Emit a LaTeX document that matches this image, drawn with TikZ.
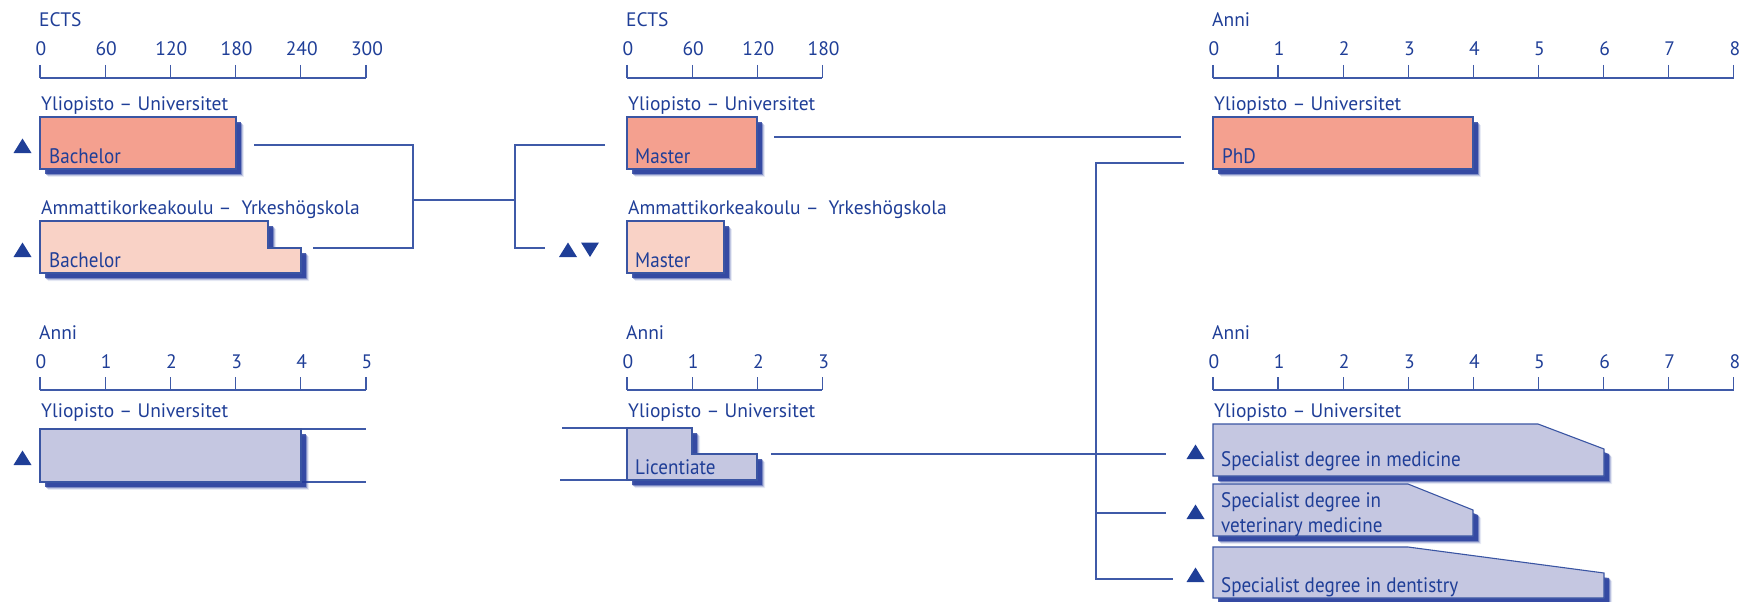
\documentclass[tikz,border=0pt]{standalone}
\usepackage{fontspec}
\setmainfont{PT Sans}
\definecolor{txt}{HTML}{1F3E97}
\definecolor{ln}{HTML}{3F5AA8}
\definecolor{edge}{HTML}{3A55A3}
\definecolor{salmon}{HTML}{F4A08F}
\definecolor{lsalmon}{HTML}{F9D2C6}
\definecolor{lav}{HTML}{C5C7E1}
\definecolor{shad}{HTML}{22399A}
\newcommand\myaxis[6]{% #1 name, #2 x0, #3 y, #4 step, #5 labels, #6 title
  \node[lbl, anchor=base west] (#1t) at (#2-1,#3-51) {#6};
  \foreach \l [count=\i from 0] in {#5} {
    \draw[conn] (#2+\i*#4,#3-13) -- (#2+\i*#4,#3);
    \node[lbl, anchor=base] (#1n\i) at (#2+\i*#4+1,#3-22) {\l};
  }
}
\newcommand\degbox[2]{% #1 fill, #2 path
  \foreach \o/\op in {8/0.1,7/0.2,6/0.4,5/0.8} {
    \fill[shad, opacity=\op, xshift=\o pt, yshift=-\o pt] #2;
  }
  \filldraw[fill=#1, draw=edge, line width=1.1pt] #2;
}
\newcommand\cond[1]{\scalebox{0.91}[1]{#1}}
\begin{document}
\begin{tikzpicture}[x=1pt,y=-1pt,
  lbl/.style={inner sep=0pt, text=txt, font=\fontsize{19.5}{22}\selectfont},
  inlbl/.style={inner sep=0pt, text=txt, font=\fontsize{21}{25}\selectfont, align=left},
  conn/.style={draw=ln, line width=1.3pt},
  tri/.style={fill=txt, draw=none}]
\useasboundingbox (0,0) rectangle (1742,602);

% ---- axes ----
\myaxis{a}{40}{78}{65.2}{0,60,120,180,240,300}{ECTS}
\draw[conn] (40,78) -- (366,78);
\myaxis{b}{627}{78}{65.2}{0,60,120,180}{ECTS}
\draw[conn] (627,78) -- (822,78);
\myaxis{c}{1213}{78}{65.1}{0,1,2,3,4,5,6,7,8}{Anni}
\draw[conn] (1213,78) -- (1734,78);
\myaxis{d}{40}{390}{65.2}{0,1,2,3,4,5}{Anni}
\draw[conn] (40,390) -- (366,390);
\myaxis{e}{627}{390}{65.2}{0,1,2,3}{Anni}
\draw[conn] (627,390) -- (822,390);
\myaxis{f}{1213}{390}{65.1}{0,1,2,3,4,5,6,7,8}{Anni}
\draw[conn] (1213,390) -- (1734,390);

% ---- institution labels ----
\node[lbl, anchor=base west] (u1) at (41,110) {Yliopisto – Universitet};
\node[lbl, anchor=base west] (k1) at (41,214) {Ammattikorkeakoulu –\hspace{10pt}Yrkeshögskola};
\node[lbl, anchor=base west] (u2) at (628,110) {Yliopisto – Universitet};
\node[lbl, anchor=base west] (k2) at (628,214) {Ammattikorkeakoulu –\hspace{10pt}Yrkeshögskola};
\node[lbl, anchor=base west] (u3) at (1214,110) {Yliopisto – Universitet};
\node[lbl, anchor=base west] (u4) at (41,417) {Yliopisto – Universitet};
\node[lbl, anchor=base west] (u5) at (628,417) {Yliopisto – Universitet};
\node[lbl, anchor=base west] (u6) at (1214,417) {Yliopisto – Universitet};

% ---- connectors (behind boxes) ----
\coordinate (c1) at (254,145); \coordinate (c2) at (413,145);
\coordinate (c3) at (413,248); \coordinate (c4) at (313,248);
\coordinate (c5) at (413,200); \coordinate (c6) at (515,200);
\coordinate (c7) at (515,145); \coordinate (c8) at (605,145);
\coordinate (c9) at (515,248); \coordinate (c10) at (545,248);
\draw[conn] (c1) -- (c2) -- (c3) -- (c4);
\draw[conn] (c5) -- (c6);
\draw[conn] (c8) -- (c7) -- (c9) -- (c10);
\coordinate (m1) at (774,137); \coordinate (m2) at (1181,137);
\draw[conn] (m1) -- (m2);
\coordinate (p1) at (1184,163); \coordinate (p2) at (1096,163);
\coordinate (p3) at (1096,579); \coordinate (p4) at (1173,579);
\coordinate (p5) at (1096,513); \coordinate (p6) at (1166,513);
\draw[conn] (p1) -- (p2) -- (p3) -- (p4);
\draw[conn] (p5) -- (p6);
\coordinate (l1) at (771,454); \coordinate (l2) at (1166,454);
\draw[conn] (l1) -- (l2);
\coordinate (y1) at (301,429); \coordinate (y2) at (366,429);
\coordinate (y3) at (301,482); \coordinate (y4) at (366,482);
\draw[conn] (y1) -- (y2); \draw[conn] (y3) -- (y4);
\coordinate (z1) at (562,428); \coordinate (z2) at (627,428);
\coordinate (z3) at (560,480); \coordinate (z4) at (627,480);
\draw[conn] (z1) -- (z2); \draw[conn] (z3) -- (z4);

% ---- boxes ----
\degbox{salmon}{(40,117) rectangle (236,169)}
\degbox{lsalmon}{(40,221) -- (268,221) -- (268,248) -- (301,248) -- (301,273) -- (40,273) -- cycle}
\degbox{lav}{(40,429) rectangle (301,482)}
\degbox{salmon}{(627,117) rectangle (757,169)}
\degbox{lsalmon}{(627,221) rectangle (724,273)}
\degbox{lav}{(627,428) -- (692,428) -- (692,454) -- (757,454) -- (757,480) -- (627,480) -- cycle}
\degbox{salmon}{(1213,117) rectangle (1473,169)}
\degbox{lav}{(1213,424) -- (1538,424) -- (1604,449) -- (1604,476) -- (1213,476) -- cycle}
\degbox{lav}{(1213,484) -- (1408,484) -- (1473,510) -- (1473,536) -- (1213,536) -- cycle}
\degbox{lav}{(1213,547) -- (1408,547) -- (1604,573) -- (1604,598) -- (1213,598) -- cycle}

% ---- box labels ----
\node[inlbl, anchor=base west] (bb1) at (49,163) {\cond{Bachelor}};
\node[inlbl, anchor=base west] (bb2) at (49,267) {\cond{Bachelor}};
\node[inlbl, anchor=base west] (mm1) at (635,163) {\cond{Master}};
\node[inlbl, anchor=base west] (mm2) at (635,267) {\cond{Master}};
\node[inlbl, anchor=base west] (lic) at (635,474) {\cond{Licentiate}};
\node[inlbl, anchor=base west] (phd) at (1222,163) {\cond{PhD}};
\node[inlbl, anchor=base west] (sm) at (1221,466) {\cond{Specialist degree in medicine}};
\node[inlbl, anchor=base west] (sv1) at (1221,507) {\cond{Specialist degree in}};
\node[inlbl, anchor=base west] (sv2) at (1221,532) {\cond{veterinary medicine}};
\node[inlbl, anchor=base west] (sd) at (1221,592) {\cond{Specialist degree in dentistry}};

% ---- triangles ----
\foreach \x/\y in {22.5/146, 22.5/250, 22.5/458, 568/250, 1195.5/452, 1195.5/512, 1195.5/575} {
  \fill[tri] (\x-9,\y+7) -- (\x+9,\y+7) -- (\x,\y-7.5) -- cycle;
}
\fill[tri] (581,242.5) -- (599,242.5) -- (590,257) -- cycle;
\end{tikzpicture}
\end{document}
